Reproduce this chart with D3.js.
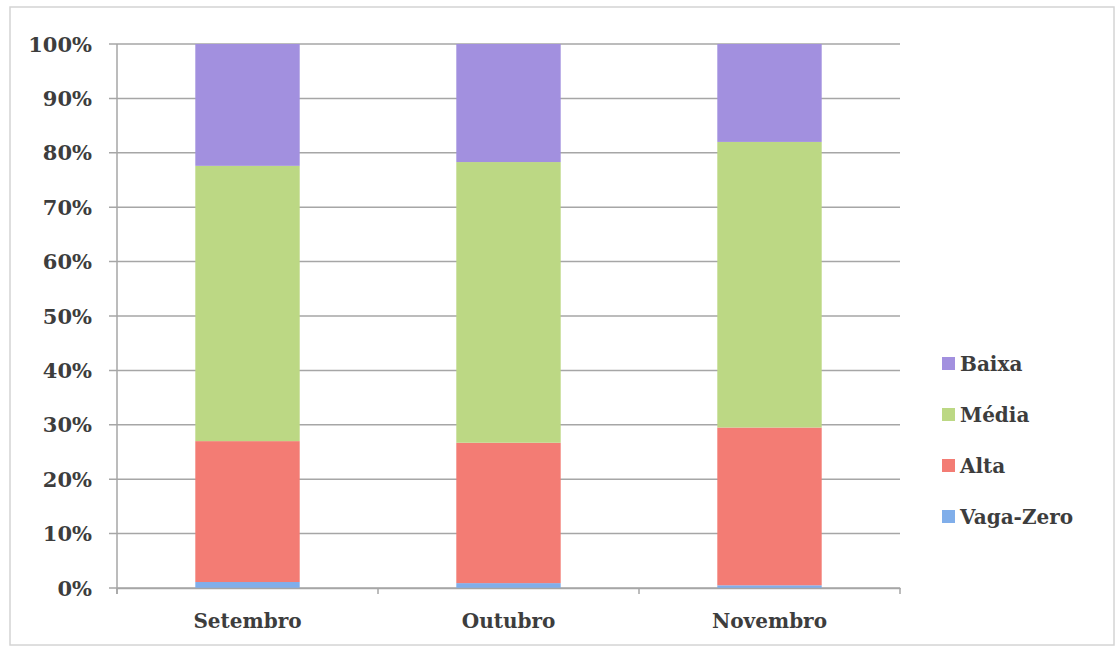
<!DOCTYPE html>
<html>
<head>
<meta charset="utf-8">
<script src="https://cdn.jsdelivr.net/npm/d3@7/dist/d3.min.js"></script>
<style>
  html, body { margin: 0; padding: 0; background: #fff; }
  svg text { font-family: "DejaVu Serif", "Liberation Serif", serif; font-weight: bold; fill: #3d3d3d; }
</style>
</head>
<body>
<svg id="chart" width="1118" height="650"></svg>
<script>
// Monthly share of each priority level (percent of total)
const months = ["Setembro", "Outubro", "Novembro"];
const seriesNames = ["Vaga-Zero", "Alta", "Média", "Baixa"];
const vagaZero = [1.1, 0.9, 0.5];
const alta = [25.9, 25.8, 29.0];
const media = [50.6, 51.6, 52.5];
const baixa = [22.4, 21.7, 18.0];
const yTicks = [0, 10, 20, 30, 40, 50, 60, 70, 80, 90, 100];
const legendOrder = ["Baixa", "Média", "Alta", "Vaga-Zero"];

const colors = {
  "Vaga-Zero": "#80aeea",
  "Alta": "#f37c74",
  "Média": "#bcd884",
  "Baixa": "#a290df"
};

const rows = months.map((m, i) => ({
  month: m,
  "Vaga-Zero": vagaZero[i],
  "Alta": alta[i],
  "Média": media[i],
  "Baixa": baixa[i]
}));

const svg = d3.select("#chart");
const plot = { left: 117, right: 900, top: 44, bottom: 588 };

// outer frame
svg.append("rect")
  .attr("x", 10).attr("y", 7).attr("width", 1104).attr("height", 638)
  .attr("fill", "none").attr("stroke", "#d4d4d4").attr("stroke-width", 1.5);

const x = d3.scaleBand().domain(months)
  .range([plot.left, plot.right]).paddingInner(0.6).paddingOuter(0.3);
const y = d3.scaleLinear().domain([0, 100]).range([plot.bottom, plot.top]);

// horizontal gridlines with short ticks left of the axis
svg.append("g").selectAll("line").data(yTicks).join("line")
  .attr("x1", plot.left - 8).attr("x2", plot.right)
  .attr("y1", d => y(d)).attr("y2", d => y(d))
  .attr("stroke", "#a6a6a6").attr("stroke-width", 1.5);

// stacked bars
const stack = d3.stack().keys(seriesNames);
const layers = stack(rows);
svg.append("g").selectAll("g").data(layers).join("g")
  .attr("fill", d => colors[d.key])
  .selectAll("rect").data(d => d).join("rect")
  .attr("x", d => x(d.data.month))
  .attr("width", x.bandwidth())
  .attr("y", d => y(d[1]))
  .attr("height", d => y(d[0]) - y(d[1]));

// vertical axis line
svg.append("line")
  .attr("x1", plot.left).attr("x2", plot.left)
  .attr("y1", plot.top).attr("y2", plot.bottom + 6)
  .attr("stroke", "#a6a6a6").attr("stroke-width", 1.5);

// horizontal axis with category-boundary ticks
const xAxis = d3.axisBottom(x).tickSize(0).tickPadding(26);
const gx = svg.append("g").attr("transform", `translate(0,${plot.bottom})`).call(xAxis);
gx.select(".domain").attr("stroke", "#a6a6a6").attr("stroke-width", 1.5);
gx.selectAll("text").attr("font-size", 20).style("font-family", "DejaVu Serif").style("font-weight", "bold").attr("fill", "#3d3d3d");
const boundaries = months.map(m => x(m) - x.step() * x.paddingInner() / 2);
boundaries[0] = plot.left;
boundaries.push(plot.right);
svg.append("g").selectAll("line").data(boundaries).join("line")
  .attr("x1", d => d).attr("x2", d => d)
  .attr("y1", plot.bottom).attr("y2", plot.bottom + 6)
  .attr("stroke", "#a6a6a6").attr("stroke-width", 1.5);

// y tick labels
svg.append("g").selectAll("text").data(yTicks).join("text")
  .attr("x", 92).attr("y", d => y(d))
  .attr("dy", "0.36em")
  .attr("text-anchor", "end")
  .attr("font-size", 21)
  .text(d => d + "%");

// legend
const lg = svg.append("g").attr("transform", "translate(942,364)");
const item = lg.selectAll("g").data(legendOrder).join("g")
  .attr("transform", (d, i) => `translate(0,${i * 51})`);
item.append("rect")
  .attr("x", 0).attr("y", -7).attr("width", 13).attr("height", 13)
  .attr("fill", d => colors[d]);
item.append("text")
  .attr("x", 18).attr("y", 0).attr("dy", "0.36em")
  .attr("font-size", 20)
  .text(d => d);
</script>
</body>
</html>
